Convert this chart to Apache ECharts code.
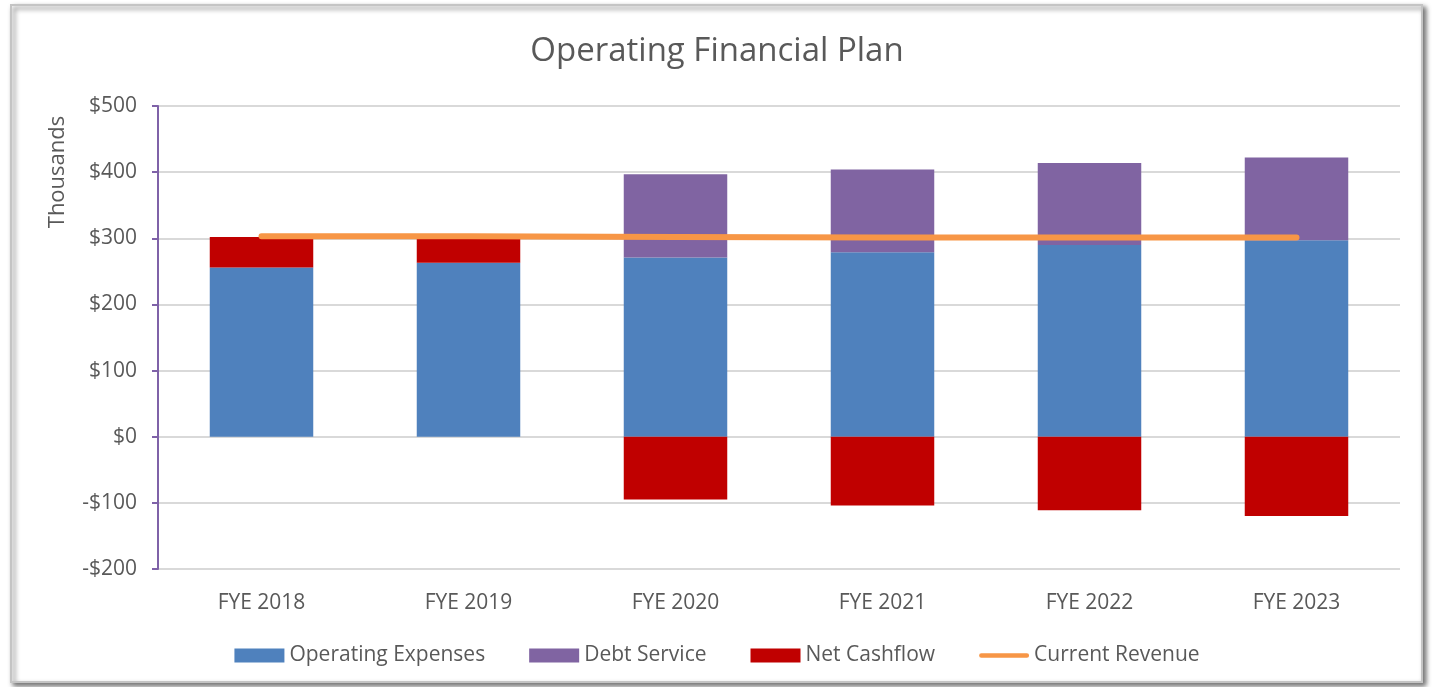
<!DOCTYPE html>
<html>
<head>
<meta charset="utf-8">
<title>Operating Financial Plan</title>
<script src="https://cdn.jsdelivr.net/npm/echarts@6/dist/echarts.min.js"></script>
<style>
  html, body { margin: 0; padding: 0; background: #ffffff; }
  #chart { width: 1434px; height: 687px; }
</style>
</head>
<body>
<div id="chart"></div>
<script>
// Fiscal years shown on the category axis
const years = ['FYE 2018', 'FYE 2019', 'FYE 2020', 'FYE 2021', 'FYE 2022', 'FYE 2023'];

// Values in thousands of dollars
const operatingExpenses = [256, 263, 271, 279, 290, 297];
const debtService = [null, null, 126, 125, 124, 125];
const netCashflow = [46, 39, -95, -104, -111, -120];
const currentRevenue = [303, 303, 302, 301, 301, 301];

// Value axis range and step
const yMin = -200;
const yMax = 500;
const yStep = 100;

const FONT = '"Open Sans", Lato, sans-serif';
const TEXT = '#595959';

// Thick rounded stroke used as the legend key of the revenue line
const LINE_KEY = 'path://M2.5,0 H52.5 A2.5,2.5 0 0 1 52.5,5 H2.5 A2.5,2.5 0 0 1 2.5,0 Z';

function money(v) {
  return v < 0 ? '-$' + Math.abs(v) : '$' + v;
}

const chart = echarts.init(document.getElementById('chart'), null, { renderer: 'canvas' });

chart.setOption({
  backgroundColor: '#ffffff',
  animation: false,
  textStyle: { fontFamily: FONT },
  title: {
    text: 'Operating Financial Plan',
    left: 'center',
    top: 30,
    textStyle: { fontFamily: FONT, fontSize: 33, fontWeight: 'normal', color: TEXT }
  },
  graphic: [
    {
      type: 'rect',
      z: -10,
      silent: true,
      shape: { x: 11, y: 5, width: 1411, height: 677 },
      style: {
        fill: '#ffffff',
        stroke: '#c4c4c4',
        lineWidth: 2,
        shadowBlur: 5,
        shadowOffsetX: 3,
        shadowOffsetY: 3,
        shadowColor: 'rgba(0,0,0,0.55)'
      }
    },
    {
      type: 'text',
      x: 58,
      y: 172,
      rotation: Math.PI / 2,
      style: {
        text: 'Thousands',
        fontFamily: FONT,
        fontSize: 22,
        fill: TEXT,
        textAlign: 'center',
        textVerticalAlign: 'middle'
      }
    }
  ],
  legend: {
    top: 640,
    left: 'center',
    itemWidth: 50,
    itemHeight: 14,
    itemGap: 44,
    textStyle: { fontFamily: FONT, fontSize: 21, color: TEXT },
    data: [
      { name: 'Operating Expenses', icon: 'rect' },
      { name: 'Debt Service', icon: 'rect' },
      { name: 'Net Cashflow', icon: 'rect' },
      { name: 'Current Revenue', icon: LINE_KEY }
    ]
  },
  grid: { left: 158, right: 34, top: 106, bottom: 118 },
  xAxis: {
    type: 'category',
    data: years,
    axisLine: { show: false },
    axisTick: { show: false },
    axisLabel: { margin: 24, fontFamily: FONT, fontSize: 21, color: TEXT }
  },
  yAxis: {
    type: 'value',
    min: yMin,
    max: yMax,
    interval: yStep,
    axisLine: { show: true, lineStyle: { color: '#7f62a8', width: 2 } },
    axisTick: { show: true, length: 6, lineStyle: { color: '#7f62a8', width: 2 } },
    axisLabel: { margin: 21, fontFamily: FONT, fontSize: 21, color: TEXT, formatter: money },
    splitLine: { lineStyle: { color: '#d9d9d9', width: 2 } }
  },
  series: [
    {
      name: 'Operating Expenses',
      type: 'bar',
      stack: 'plan',
      barWidth: '50%',
      itemStyle: { color: '#4f81bd' },
      data: operatingExpenses
    },
    {
      name: 'Debt Service',
      type: 'bar',
      stack: 'plan',
      barWidth: '50%',
      itemStyle: { color: '#8064a2' },
      data: debtService
    },
    {
      name: 'Net Cashflow',
      type: 'bar',
      stack: 'plan',
      barWidth: '50%',
      itemStyle: { color: '#c00000' },
      data: netCashflow
    },
    {
      name: 'Current Revenue',
      type: 'line',
      symbol: 'none',
      lineStyle: { color: '#f79646', width: 6, cap: 'round' },
      itemStyle: { color: '#f79646' },
      data: currentRevenue
    }
  ]
});
</script>
</body>
</html>
